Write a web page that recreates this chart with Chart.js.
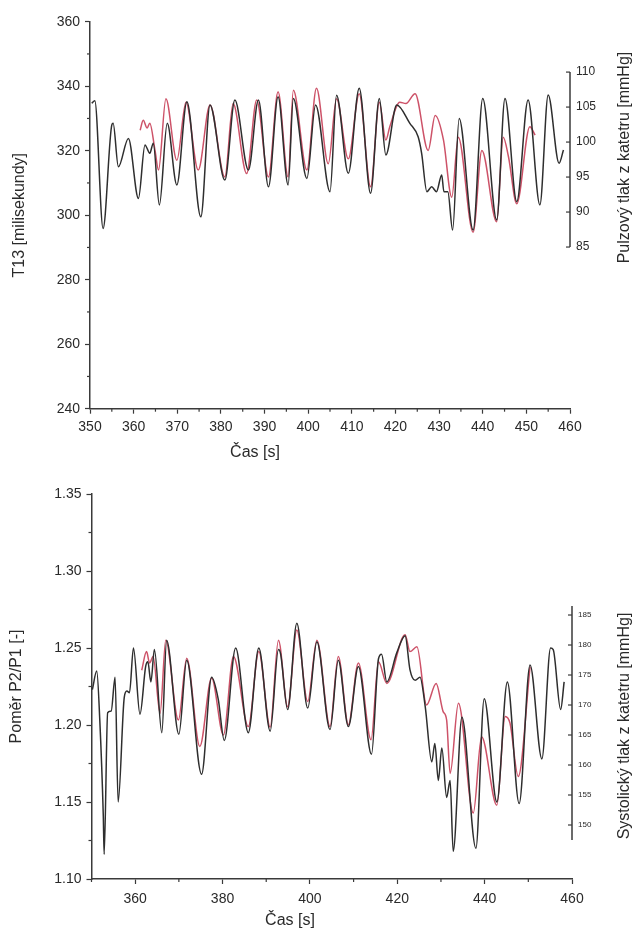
<!DOCTYPE html>
<html>
<head>
<meta charset="utf-8">
<script src="https://cdn.jsdelivr.net/npm/chart.js@4.4.1/dist/chart.umd.min.js"></script>
<style>
    html, body { margin: 0; padding: 0; background: #fff; }
    .panel { position: absolute; left: 0; width: 634px; height: 467px; }
    #panel-top { top: 0; }
    #panel-bottom { top: 467px; }
</style>
</head>
<body>
<div class="panel" id="panel-top"><canvas id="chart-top" width="634" height="467"></canvas></div>
<div class="panel" id="panel-bottom"><canvas id="chart-bottom" width="634" height="467"></canvas></div>
<script>
// --- top panel: T13 (left axis, black) and pulse pressure (right axis, red)
const t13Time = [350.4, 351.1, 353.0, 355.0, 355.3, 356.5, 358.8, 361.1, 362.6, 363.7, 364.5, 365.9, 367.7, 369.9, 372.2, 375.4, 377.5, 380.9, 383.2, 386.3, 388.6, 390.9, 393.1, 395.4, 396.6, 399.7, 401.7, 405.0, 406.5, 409.2, 411.7, 414.3, 416.3, 417.8, 420.3, 423.3, 425.2, 426.0, 427.2, 428.3, 429.4, 430.6, 431.1, 432.0, 433.1, 434.6, 437.8, 440.0, 443.2, 445.1, 447.8, 450.4, 453.1, 455.0, 457.5, 458.5];
const t13Values = [334.7, 335.5, 295.9, 328.0, 328.5, 315.0, 323.8, 305.2, 321.8, 319.2, 322.3, 303.2, 328.5, 309.4, 335.2, 299.5, 334.2, 310.9, 335.7, 314.0, 335.7, 308.8, 336.7, 309.4, 336.2, 311.4, 334.2, 307.3, 337.2, 313.0, 339.4, 306.8, 336.2, 318.7, 334.2, 328.5, 324.3, 319.2, 307.3, 308.8, 307.3, 312.5, 307.3, 307.3, 295.4, 330.0, 295.4, 336.2, 298.5, 336.2, 304.2, 335.7, 303.2, 337.3, 316.1, 320.2];

const pulseTime = [361.5, 362.2, 363.1, 363.7, 364.9, 365.7, 367.4, 369.9, 372.0, 374.8, 377.5, 380.9, 382.8, 385.9, 388.2, 390.9, 393.1, 395.4, 396.6, 399.7, 401.9, 404.6, 406.5, 409.2, 411.7, 414.3, 416.3, 417.8, 418.7, 421.0, 422.4, 424.5, 427.5, 429.1, 431.0, 432.9, 434.4, 437.8, 439.8, 443.2, 444.7, 445.9, 447.8, 450.8, 452.0];
const pulseValues = [101.7, 103.1, 102.0, 102.7, 98.8, 96.0, 106.2, 97.4, 105.7, 96.0, 105.3, 95.0, 105.5, 95.5, 106.0, 95.0, 107.2, 95.0, 107.4, 96.0, 107.7, 96.9, 106.2, 97.6, 106.9, 93.6, 105.7, 100.3, 102.2, 105.7, 105.5, 106.9, 98.8, 103.8, 100.3, 92.1, 100.7, 87.1, 98.8, 88.6, 100.7, 97.9, 91.2, 102.2, 101.0];

// --- bottom panel: P2/P1 ratio (left axis, black) and systolic pressure (right axis, red)
const ratioTime = [350.2, 351.2, 351.9, 352.7, 352.9, 353.7, 354.5, 355.4, 356.1, 357.5, 358.1, 358.7, 359.6, 361.1, 362.4, 362.9, 363.6, 364.4, 366.1, 367.2, 370.0, 371.8, 375.2, 377.5, 379.0, 380.4, 383.0, 385.9, 388.3, 390.9, 392.8, 393.3, 394.9, 397.0, 399.5, 401.6, 404.6, 406.5, 408.8, 411.1, 414.1, 415.7, 416.4, 417.6, 419.9, 421.8, 422.9, 424.1, 425.2, 426.4, 427.9, 428.6, 429.4, 430.2, 431.3, 432.1, 432.8, 434.8, 438.0, 439.9, 442.8, 445.2, 447.9, 450.4, 453.1, 455.1, 455.7, 457.4, 458.2];
const ratioValues = [1.223, 1.235, 1.203, 1.141, 1.116, 1.208, 1.209, 1.231, 1.150, 1.218, 1.222, 1.221, 1.250, 1.207, 1.238, 1.241, 1.228, 1.249, 1.195, 1.255, 1.194, 1.242, 1.168, 1.231, 1.217, 1.190, 1.250, 1.195, 1.250, 1.196, 1.249, 1.246, 1.210, 1.266, 1.211, 1.254, 1.197, 1.242, 1.199, 1.238, 1.181, 1.243, 1.246, 1.228, 1.247, 1.258, 1.236, 1.229, 1.231, 1.212, 1.176, 1.188, 1.164, 1.185, 1.153, 1.164, 1.118, 1.205, 1.120, 1.217, 1.150, 1.228, 1.149, 1.239, 1.178, 1.250, 1.249, 1.210, 1.228];

const systolicTime = [361.5, 362.6, 363.3, 364.1, 365.7, 367.0, 369.9, 371.8, 374.8, 377.5, 380.2, 382.5, 385.9, 388.3, 390.9, 392.8, 394.9, 397.0, 399.5, 401.6, 404.6, 406.5, 408.8, 411.1, 414.0, 415.7, 417.6, 421.8, 422.9, 424.5, 426.7, 428.9, 430.5, 431.3, 432.1, 434.0, 437.4, 439.3, 442.8, 444.7, 445.8, 447.7, 450.4];
const systolicValues = [175.8, 178.9, 177.0, 178.1, 168.6, 180.8, 167.5, 177.8, 163.1, 174.5, 165.0, 178.1, 166.4, 178.9, 166.3, 180.8, 169.7, 182.5, 170.6, 180.8, 166.4, 178.1, 166.7, 177.0, 164.2, 177.2, 173.6, 181.7, 178.9, 179.7, 170.0, 173.6, 168.9, 167.5, 158.6, 170.3, 152.0, 164.7, 153.3, 168.1, 167.0, 158.1, 176.4];

const AXIS_COLOR = '#3a3a3a';
const TEXT_COLOR = '#2a2a2a';
const BLACK_LINE = '#2e2e2e';
const RED_LINE = 'rgb(205, 82, 104)';
const FONT = 'Liberation Sans, Arial, sans-serif';

const isMultiple = (v, step) => Math.abs(v / step - Math.round(v / step)) < 1e-6;
const toPoints = (xs, ys) => xs.map((x, i) => ({ x: x, y: ys[i] }));

// right partial axis, minor ticks and the free-placed titles
const axisExtras = {
    id: 'axisExtras',
    afterDraw(chart, args, o) {
        const { ctx, chartArea: area, scales } = chart;
        const seg = (x1, y1, x2, y2) => { ctx.beginPath(); ctx.moveTo(x1, y1); ctx.lineTo(x2, y2); ctx.stroke(); };
        ctx.save();
        ctx.strokeStyle = AXIS_COLOR;
        ctx.lineWidth = 1.2;

        scales.x.ticks.forEach(t => {
            if (isMultiple(t.value, o.xMajorStep)) return;
            const px = scales.x.getPixelForValue(t.value);
            seg(px, area.bottom, px, area.bottom + 3);
        });
        scales.y.ticks.forEach(t => {
            if (isMultiple(t.value, o.yMajorStep)) return;
            const py = scales.y.getPixelForValue(t.value);
            seg(area.left - 3, py, area.left, py);
        });

        const r = scales.y1;
        const rTop = r.getPixelForValue(o.rightFrom);
        const rBottom = r.getPixelForValue(o.rightTo);
        ctx.lineWidth = 1.5;
        seg(r.left, rTop, r.left, rBottom);
        ctx.lineWidth = 1.2;
        for (let v = o.rightTickMin; v <= o.rightTickMax; v += o.rightTickStep) {
            const py = r.getPixelForValue(v);
            seg(r.left - 4, py, r.left, py);
        }

        ctx.fillStyle = TEXT_COLOR;
        ctx.font = o.titleSize + 'px ' + FONT;
        ctx.textAlign = 'center';
        ctx.textBaseline = 'middle';
        ctx.fillText(o.xTitle, o.xTitleX, o.xTitleY);

        ctx.translate(o.rightTitleX, (rTop + rBottom) / 2 + o.rightTitleShift);
        ctx.rotate(-Math.PI / 2);
        ctx.fillText(o.rightTitle, 0, 0);
        ctx.restore();
    }
};

function buildChart(canvasId, cfg) {
    const ctx = document.getElementById(canvasId).getContext('2d');
    return new Chart(ctx, {
        type: 'line',
        data: {
            datasets: [
                {
                    data: toPoints(cfg.blackTime, cfg.blackValues),
                    yAxisID: 'y',
                    borderColor: BLACK_LINE,
                    borderWidth: 1.5,
                    pointRadius: 0,
                    cubicInterpolationMode: 'monotone'
                },
                {
                    data: toPoints(cfg.redTime, cfg.redValues),
                    yAxisID: 'y1',
                    borderColor: RED_LINE,
                    borderWidth: 1.5,
                    pointRadius: 0,
                    cubicInterpolationMode: 'monotone'
                }
            ]
        },
        options: {
            responsive: false,
            animation: false,
            layout: { padding: { top: cfg.padTop, left: 0, right: 0, bottom: 0 } },
            plugins: {
                legend: { display: false },
                tooltip: { enabled: false },
                axisExtras: cfg.extras
            },
            scales: {
                x: {
                    type: 'linear',
                    min: 350,
                    max: 460,
                    afterFit: s => { s.height = cfg.xHeight; },
                    border: { color: AXIS_COLOR, width: 1.5 },
                    grid: {
                        drawOnChartArea: false,
                        tickLength: 5,
                        tickWidth: 1.2,
                        tickColor: c => (c.tick && isMultiple(c.tick.value, cfg.extras.xMajorStep)) ? AXIS_COLOR : 'rgba(0,0,0,0)'
                    },
                    ticks: {
                        stepSize: cfg.xStep,
                        autoSkip: false,
                        maxRotation: 0,
                        padding: cfg.xLabelPad,
                        color: TEXT_COLOR,
                        font: { family: FONT, size: 14 },
                        callback: v => isMultiple(v, cfg.extras.xMajorStep) ? Math.round(v) : ''
                    }
                },
                y: {
                    position: 'left',
                    min: cfg.yMin,
                    max: cfg.yMax,
                    afterFit: s => { s.width = cfg.leftWidth; },
                    border: { color: AXIS_COLOR, width: 1.5 },
                    grid: {
                        drawOnChartArea: false,
                        tickLength: 5,
                        tickWidth: 1.2,
                        tickColor: c => (c.tick && isMultiple(c.tick.value, cfg.extras.yMajorStep)) ? AXIS_COLOR : 'rgba(0,0,0,0)'
                    },
                    ticks: {
                        stepSize: cfg.yStep,
                        autoSkip: false,
                        padding: 5,
                        color: TEXT_COLOR,
                        font: { family: FONT, size: 14 },
                        callback: v => isMultiple(v, cfg.extras.yMajorStep) ? v.toFixed(cfg.yDecimals) : ''
                    },
                    title: {
                        display: true,
                        text: cfg.leftTitle,
                        color: TEXT_COLOR,
                        font: { family: FONT, size: 16 },
                        padding: { top: cfg.leftTitlePad, bottom: 0 }
                    }
                },
                y1: {
                    position: 'right',
                    min: cfg.rMin,
                    max: cfg.rMax,
                    afterFit: s => { s.width = cfg.rightWidth; },
                    border: { display: false },
                    grid: { drawOnChartArea: false, drawTicks: false },
                    ticks: {
                        stepSize: 5,
                        autoSkip: false,
                        padding: 6,
                        color: TEXT_COLOR,
                        font: { family: FONT, size: cfg.rFontSize },
                        callback: v => (v >= cfg.extras.rightTickMin - 0.01 && v <= cfg.extras.rightTickMax + 0.01 && isMultiple(v, 5)) ? Math.round(v) : ''
                    }
                }
            }
        },
        plugins: [axisExtras]
    });
}

buildChart('chart-top', {
    blackTime: t13Time, blackValues: t13Values,
    redTime: pulseTime, redValues: pulseValues,
    padTop: 21.7, xHeight: 58.3, leftWidth: 90, rightWidth: 64,
    xStep: 5, xLabelPad: 5,
    yMin: 240, yMax: 360, yStep: 10, yDecimals: 0,
    rMin: 61.9, rMax: 117.2, rFontSize: 12,
    leftTitle: 'T13 [milisekundy]', leftTitlePad: 10,
    extras: {
        xMajorStep: 10, yMajorStep: 20,
        rightFrom: 110, rightTo: 85, rightTickMin: 85, rightTickMax: 110, rightTickStep: 5,
        titleSize: 16,
        xTitle: 'Čas [s]', xTitleX: 255, xTitleY: 453,
        rightTitle: 'Pulzový tlak z katetru [mmHg]', rightTitleX: 625, rightTitleShift: -2
    }
});

buildChart('chart-bottom', {
    blackTime: ratioTime, blackValues: ratioValues,
    redTime: systolicTime, redValues: systolicValues,
    padTop: 27, xHeight: 55, leftWidth: 91.5, rightWidth: 62,
    xStep: 10, xLabelPad: 7,
    yMin: 1.10, yMax: 1.35, yStep: 0.025, yDecimals: 2,
    rMin: 141.0, rMax: 205.17, rFontSize: 8,
    leftTitle: 'Poměr P2/P1 [-]', leftTitlePad: 7,
    extras: {
        xMajorStep: 20, yMajorStep: 0.05,
        rightFrom: 186.5, rightTo: 147.5, rightTickMin: 150, rightTickMax: 185, rightTickStep: 5,
        titleSize: 16,
        xTitle: 'Čas [s]', xTitleX: 290, xTitleY: 454,
        rightTitle: 'Systolický tlak z katetru [mmHg]', rightTitleX: 625, rightTitleShift: 3
    }
});
</script>
</body>
</html>
